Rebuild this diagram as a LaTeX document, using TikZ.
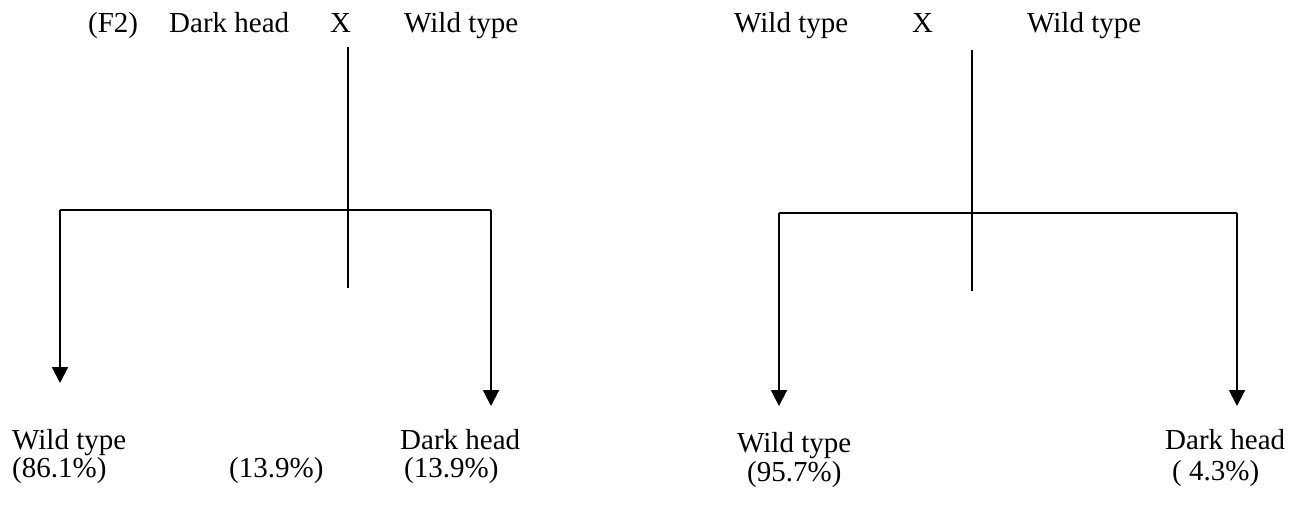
\documentclass[tikz,border=0pt]{standalone}
\usepackage{fontspec}
\setmainfont{Liberation Serif}
\usetikzlibrary{arrows.meta}
\begin{document}
\begin{tikzpicture}[x=1pt,y=-1pt,
  lbl/.style={anchor=base west,inner sep=0pt,font=\fontsize{29}{33}\selectfont},
  ln/.style={line width=2pt},
  arr/.style={line width=2pt,-{Triangle[width=16pt,length=16pt]}}]
\useasboundingbox (0,0) rectangle (1292,515);
% ---- left cross ----
\node[lbl] (f2) at (88,32) {(F2)};
\node[lbl] (dh1) at (169,32) {Dark head};
\node[lbl] (x1) at (330,32) {X};
\node[lbl] (wt1) at (404,32) {Wild type};
\coordinate (c1t) at (348,47);
\coordinate (c1b) at (348,288);
\coordinate (j1l) at (60,210);
\coordinate (j1r) at (491,210);
\coordinate (t1l) at (60,383);
\coordinate (t1r) at (491,406);
\draw[ln] (c1t) -- (c1b);
\draw[ln] (j1l) -- (j1r);
\draw[arr] (j1l) -- (t1l);
\draw[arr] (j1r) -- (t1r);
\node[lbl] (wt2) at (12,449) {Wild type};
\node[lbl] (p1) at (12,477) {(86.1\%)};
\node[lbl] (p2) at (229,477) {(13.9\%)};
\node[lbl] (dh2) at (400,449) {Dark head};
\node[lbl] (p3) at (404,477) {(13.9\%)};
% ---- right cross ----
\node[lbl] (wt3) at (734,32) {Wild type};
\node[lbl] (x2) at (912,32) {X};
\node[lbl] (wt4) at (1027,32) {Wild type};
\coordinate (c2t) at (972,50);
\coordinate (c2b) at (972,291);
\coordinate (j2l) at (779,213);
\coordinate (j2r) at (1237,213);
\coordinate (t2l) at (779,406);
\coordinate (t2r) at (1237,406);
\draw[ln] (c2t) -- (c2b);
\draw[ln] (j2l) -- (j2r);
\draw[arr] (j2l) -- (t2l);
\draw[arr] (j2r) -- (t2r);
\node[lbl] (wt5) at (737,452) {Wild type};
\node[lbl] (p4) at (747,481) {(95.7\%)};
\node[lbl] (dh3) at (1165,449) {Dark head};
\node[lbl] (p5) at (1172,480) {( 4.3\%)};
\end{tikzpicture}
\end{document}
